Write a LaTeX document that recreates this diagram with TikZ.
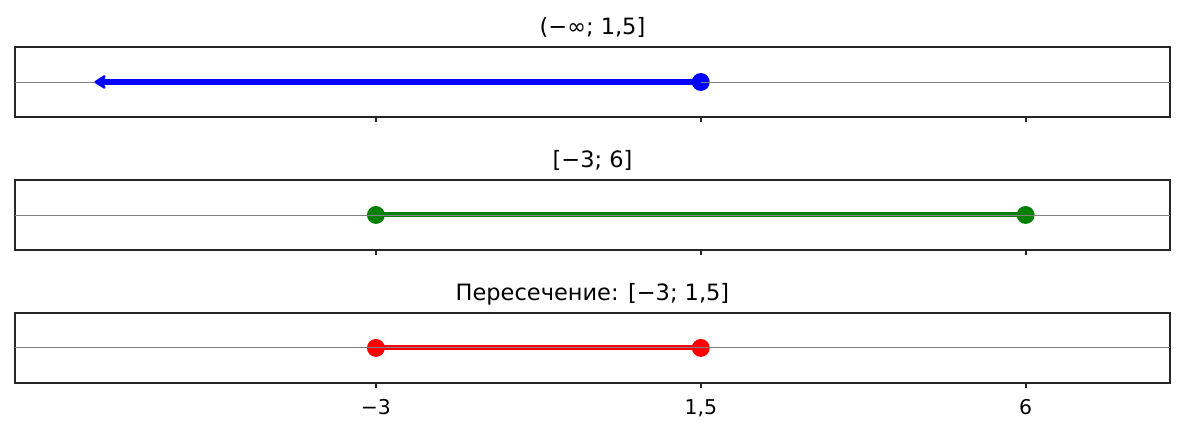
\documentclass[tikz,border=0pt]{standalone}
\usepackage{fontspec}
\setmainfont{DejaVu Sans}
\usetikzlibrary{arrows.meta}

\definecolor{mplgreen}{RGB}{0,128,0}
\tikzset{
  frame/.style={draw=black!85, line width=1.1pt},
  axisline/.style={draw=gray, line width=0.5pt},
  ticklabel/.style={font=\fontsize{11.6}{13}\selectfont, anchor=base},
  paneltitle/.style={font=\fontsize{12.8}{15}\selectfont, anchor=base},
  segment/.style={line width=2.8pt},
  endpoint/.style={circle, inner sep=0pt, minimum size=10.2pt},
}
% one axes box: top edge (px), title
\newcommand\DrawPanel[2]{%
  \draw[frame] (-8,#1) rectangle (8,#1+70);
  \node[paneltitle] at (0,#1-12) {#2};
}
\newcommand\DrawTicks[1]{%
  \foreach \t in {-3,1.5,6} { \draw[frame] (\t,#1+70) -- (\t,#1+75); }
}

\begin{document}
\begin{tikzpicture}[x=1.4444cm, y=-0.02cm]
\useasboundingbox (-8.2077,0) rectangle (8.2077,433);

% (-inf; 1,5]
\DrawPanel{47}{(−∞; 1,5]}
\DrawTicks{47}
\node[endpoint, fill=blue] (a1) at (1.5,82) {};
\draw[axisline] (-8,82) -- (8,82);
\coordinate (a0) at (-6.9,82);
\draw[-{Stealth[length=8pt,width=10pt,round]}, blue, line width=3.9pt] (a1.center) -- (a0);

% [-3; 6]
\DrawPanel{180}{[−3; 6]}
\DrawTicks{180}
\node[endpoint, fill=mplgreen] (b0) at (-3,215) {};
\node[endpoint, fill=mplgreen] (b1) at (6,215) {};
\draw[segment, mplgreen] (b0.center) -- (b1.center);
\draw[axisline] (-8,215) -- (8,215);

% intersection
\DrawPanel{313}{Пересечение: [−3; 1,5]}
\DrawTicks{313}
\node[endpoint, fill=red] (c0) at (-3,348) {};
\node[endpoint, fill=red] (c1) at (1.5,348) {};
\draw[segment, red] (c0.center) -- (c1.center);
\draw[axisline] (-8,348) -- (8,348);
\node[ticklabel] at (-3,415) {−3};
\node[ticklabel] at (1.5,415) {1,5};
\node[ticklabel] at (6,415) {6};
\end{tikzpicture}
\end{document}
